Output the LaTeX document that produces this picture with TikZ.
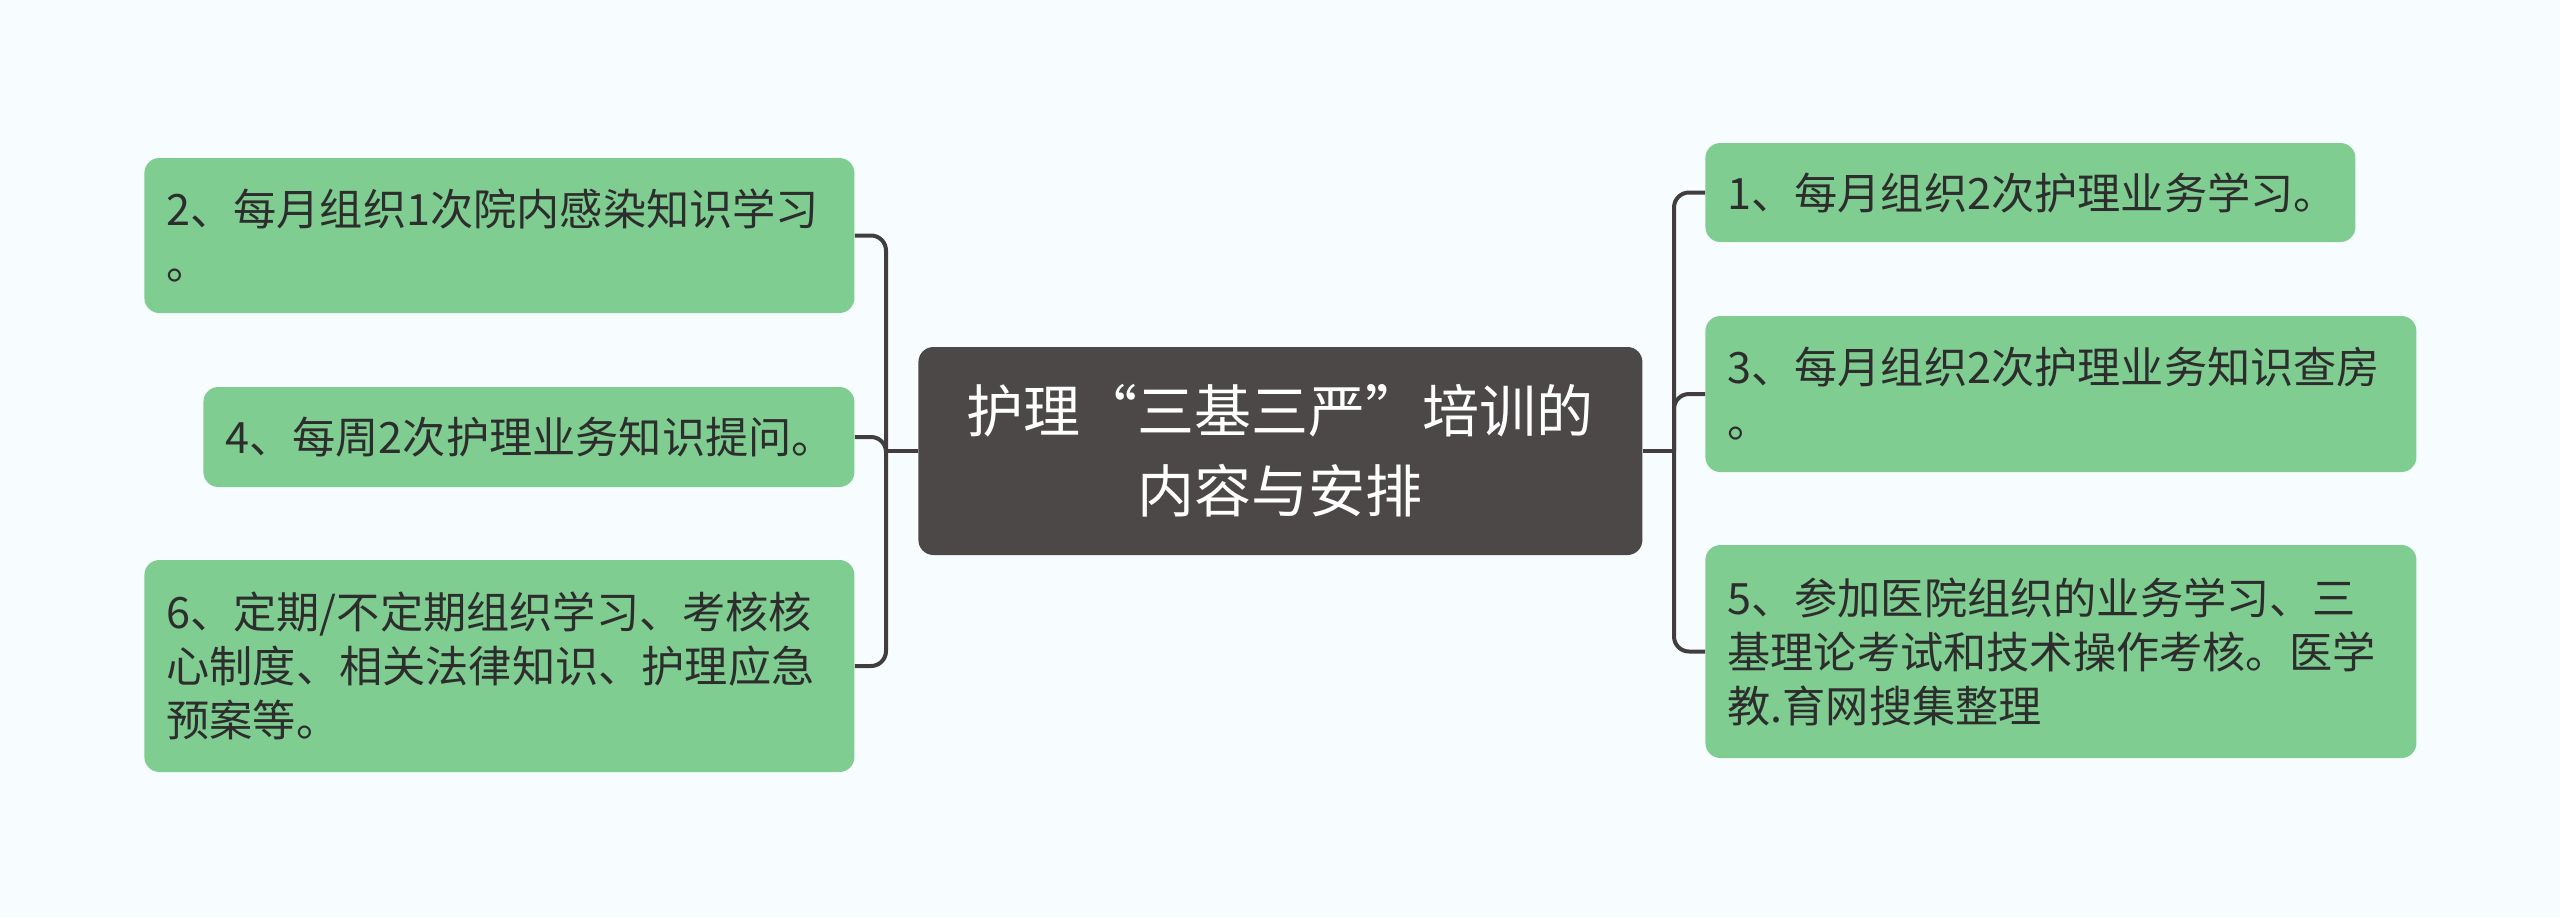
\documentclass[tikz,border=0pt]{standalone}
\usepackage{fontspec}
\newfontfamily\cjk{Noto Sans CJK SC}
\definecolor{bgc}{RGB}{247,253,254}
\definecolor{leafgreen}{RGB}{127,205,145}
\definecolor{rootgray}{RGB}{76,72,72}
\definecolor{linegray}{RGB}{66,62,62}
\definecolor{textdark}{RGB}{45,45,45}
\begin{document}
\begin{tikzpicture}[x=0.5pt,y=-0.5pt,
  leaf/.style={fill=leafgreen, draw=none, rounded corners=7.5pt, text=textdark,
    font=\cjk\fontsize{21.6pt}{27pt}\selectfont, align=left, inner xsep=11pt, inner ysep=0pt, anchor=west},
  root/.style={fill=rootgray, draw=none, rounded corners=7.5pt, text=white,
    font=\cjk\fontsize{28.5pt}{40pt}\selectfont, align=center, inner sep=0pt, anchor=west},
  conn/.style={draw=linegray, line width=2pt},
  rconn/.style={conn, rounded corners=7.5pt}]
\useasboundingbox (0,0) rectangle (2560,917);
\fill[bgc] (0,0) rectangle (2560,917);
% root
\node[root, minimum width=362pt, minimum height=104pt, text width=350pt] (root) at (918,451)
  {护理“三基三严”培训的\\内容与安排};
% left leaves
\node[leaf, minimum width=355pt, minimum height=77.5pt, text width=333pt] (n2) at (144,235.5)
  {2、每月组织1次院内感染知识学习\\。};
\node[leaf, minimum width=325.5pt, minimum height=50pt, text width=303.5pt] (n4) at (203,437)
  {4、每周2次护理业务知识提问。};
\node[leaf, minimum width=355pt, minimum height=106pt, text width=333pt] (n6) at (144,666)
  {6、定期/不定期组织学习、考核核\\心制度、相关法律知识、护理应急\\预案等。};
% right leaves
\node[leaf, minimum width=325pt, minimum height=49.5pt, text width=303pt] (n1) at (1705,192.5)
  {1、每月组织2次护理业务学习。};
\node[leaf, minimum width=355.5pt, minimum height=78pt, text width=333.5pt] (n3) at (1705,394)
  {3、每月组织2次护理业务知识查房\\。};
\node[leaf, minimum width=355.5pt, minimum height=106.5pt, text width=333.5pt] (n5) at (1705,651.5)
  {5、参加医院组织的业务学习、三\\基理论考试和技术操作考核。医学\\教.育网搜集整理};
% junctions
\coordinate (jL) at (886,451);
\coordinate (jR) at (1674,451);
\draw[conn] (root.west) -- (jL);
\draw[conn] (root.east) -- (jR);
\draw[rconn] (jL) |- (n2.east);
\draw[rconn] (jL) |- (n4.east);
\draw[rconn] (jL) |- (n6.east);
\draw[rconn] (jR) |- (n1.west);
\draw[rconn] (jR) |- (n3.west);
\draw[rconn] (jR) |- (n5.west);
\end{tikzpicture}
\end{document}
